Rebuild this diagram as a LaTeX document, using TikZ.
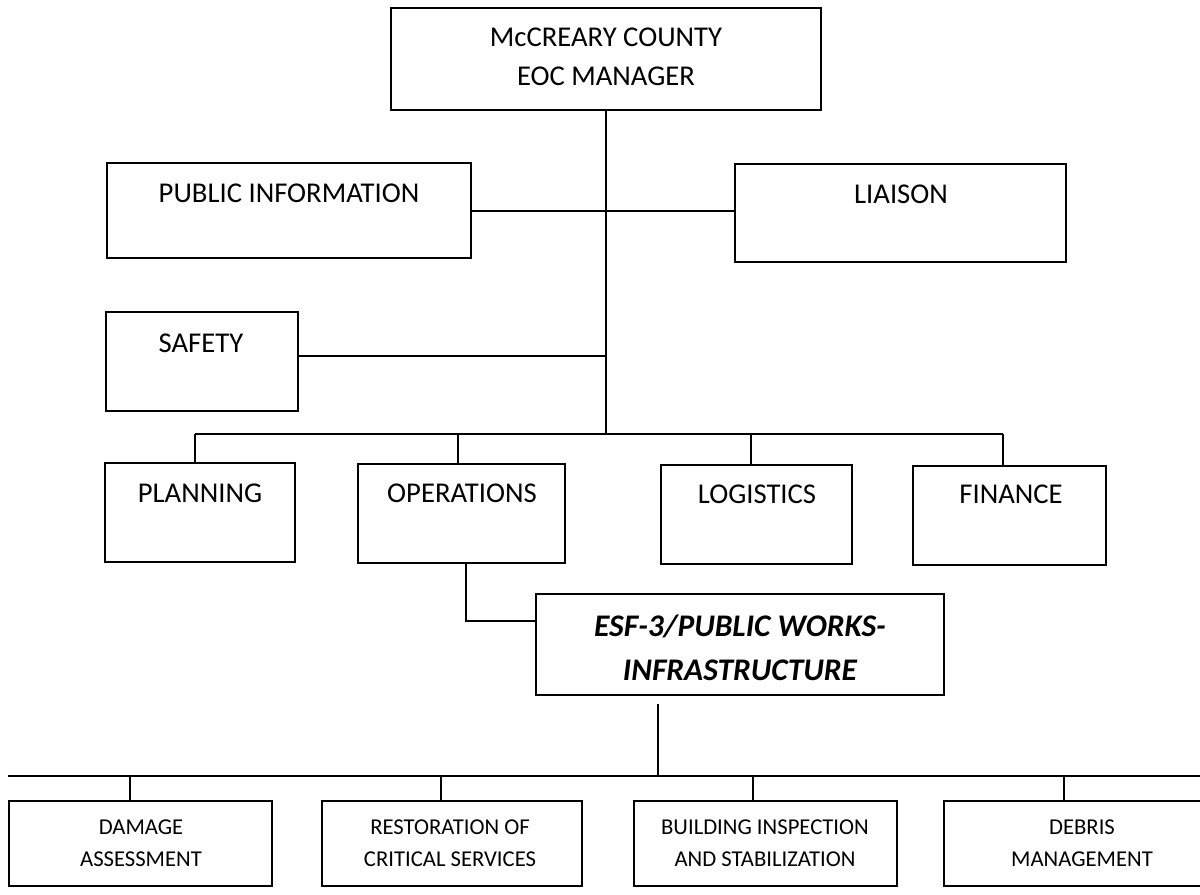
\documentclass[tikz,border=0pt]{standalone}
\usepackage{fontspec}
\setmainfont{Carlito}
\usetikzlibrary{fit,calc}
\begin{document}
\begin{tikzpicture}[x=0.75pt,y=-0.75pt,
  box/.style={draw,line width=1.5pt,inner sep=0pt},
  conn/.style={line width=1.5pt},
  big/.style={font=\fontsize{21.5}{29.25}\selectfont,align=center,inner sep=0pt},
  small/.style={font=\fontsize{17}{24}\selectfont,align=center,inner sep=0pt},
  esftxt/.style={font=\fontsize{23.6}{33}\selectfont\bfseries\itshape,align=center,inner sep=0pt}]
\fill[white] (0,0) rectangle (1200,894);
\useasboundingbox (0,0) rectangle (1200,894);

% boxes
\node[box,fit={(391,8) (821,110)}] (mgr) {};
\node[box,fit={(107,163) (471,258)}] (pub) {};
\node[box,fit={(735,164) (1066,262)}] (lia) {};
\node[box,fit={(106,312) (298,411)}] (saf) {};
\node[box,fit={(105,463) (295,562)}] (pln) {};
\node[box,fit={(358,464) (565,563)}] (ops) {};
\node[box,fit={(661,465) (852,564)}] (log) {};
\node[box,fit={(913,466) (1106,565)}] (fin) {};
\node[box,fit={(536,594) (944,695)}] (esf) {};
\node[box,fit={(9,801) (272,886)}] (dam) {};
\node[box,fit={(322,801) (582,886)}] (res) {};
\node[box,fit={(634,801) (897,886)}] (bld) {};
\node[box,fit={(944,801) (1216,886)}] (deb) {};

% texts
\node[big] (tmgr) at (606,56.5) {McCREARY COUNTY\\EOC MANAGER};
\node[big] (tpub) at (289,193) {PUBLIC INFORMATION};
\node[big] (tlia) at (901,194) {LIAISON};
\node[big] (tsaf) at (201,343) {SAFETY};
\node[big] (tpln) at (200,493) {PLANNING};
\node[big] (tops) at (462,493) {OPERATIONS};
\node[big] (tlog) at (757,494) {LOGISTICS};
\node[big] (tfin) at (1011,494) {FINANCE};
\node[esftxt] (tesf) at (740,648) {ESF-3/PUBLIC WORKS-\\INFRASTRUCTURE};
\node[small] (tdam) at (141,843) {DAMAGE\\ASSESSMENT};
\node[small] (tres) at (450,843) {RESTORATION OF\\CRITICAL SERVICES};
\node[small] (tbld) at (765,843) {BUILDING INSPECTION\\AND STABILIZATION};
\node[small] (tdeb) at (1082,843) {DEBRIS\\MANAGEMENT};

% junction coordinates
\coordinate (jbar) at (606,434);
\coordinate (jsaf) at (606,356);
\coordinate (d1) at (195,434);
\coordinate (d2) at (458,434);
\coordinate (d3) at (751,434);
\coordinate (d4) at (1003,434);
\coordinate (oe) at (466,621);
\coordinate (eb) at (658,776);
\coordinate (bl) at (8,776);
\coordinate (br) at (1200,776);
\coordinate (b1) at (130,776);
\coordinate (b2) at (441,776);
\coordinate (b3) at (753,776);
\coordinate (b4) at (1064,776);

% connectors
\draw[conn] (mgr.south) -- (jbar);
\draw[conn] (pub.east) -- (pub.east -| lia.west);
\draw[conn] (saf.east |- jsaf) -- (jsaf);
\draw[conn] (d1) -- (d4);
\draw[conn] (d1) -- (d1 |- pln.north);
\draw[conn] (d2) -- (d2 |- ops.north);
\draw[conn] (d3) -- (d3 |- log.north);
\draw[conn] (d4) -- (d4 |- fin.north);
\draw[conn] (ops.south -| oe) -- (oe) -- (oe -| esf.west);
\draw[conn,shorten <=6pt] (esf.south -| eb) -- (eb);
\draw[conn] (bl) -- (br);
\draw[conn] (b1) -- (b1 |- dam.north);
\draw[conn] (b2) -- (b2 |- res.north);
\draw[conn] (b3) -- (b3 |- bld.north);
\draw[conn] (b4) -- (b4 |- deb.north);
\end{tikzpicture}
\end{document}
